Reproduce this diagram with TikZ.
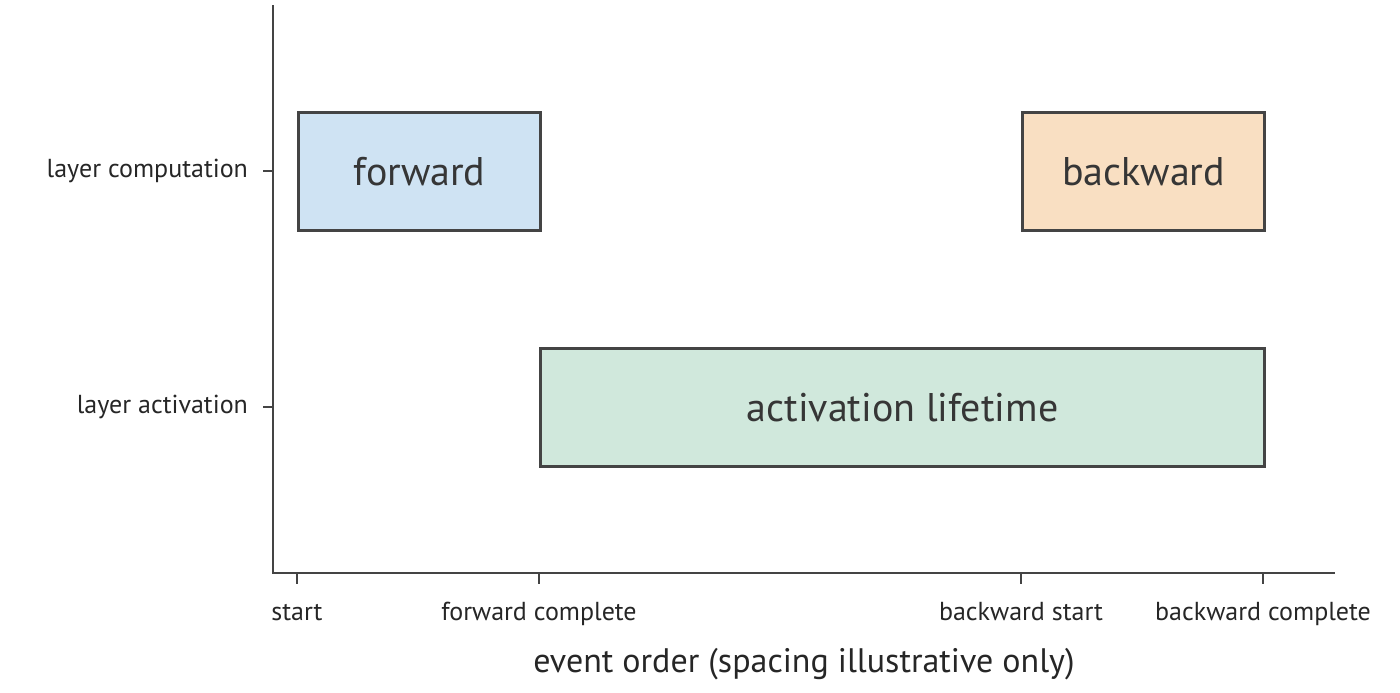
\documentclass[tikz,border=0pt]{standalone}
\usepackage{fontspec}
\setmainfont{PT Sans}
\usepackage{xcolor}
\definecolor{fwdblue}{HTML}{CFE3F3}
\definecolor{bwdorange}{HTML}{F9DFC2}
\definecolor{actgreen}{HTML}{D0E8DC}
\definecolor{axisgray}{HTML}{444444}
\begin{document}
\begin{tikzpicture}[x=0.5pt, y=-0.5pt,
    phase/.style={draw=axisgray, line width=1.5pt, inner sep=0pt, anchor=north west, font=\fontsize{20}{24}\selectfont, text=axisgray!80!black},
    tick/.style={font=\fontsize{13}{15}\selectfont, text=black!85},
    axis/.style={draw=axisgray, line width=1pt}]
  \useasboundingbox (0, 0) rectangle (1400, 692);

  % axes
  \coordinate (top) at (273, 5);
  \coordinate (origin) at (273, 573);
  \coordinate (right) at (1335, 573);
  \draw[axis] (top) -- (origin) -- (right);

  % phases
  \node (forward) at (297, 111) [phase, fill=fwdblue, minimum width=121pt, minimum height=59pt] {forward};
  \node (backward) at (1021, 111) [phase, fill=bwdorange, minimum width=121pt, minimum height=59pt] {backward};
  \node (lifetime) at (539, 347) [phase, fill=actgreen, minimum width=362pt, minimum height=59pt] {activation lifetime};

  % y ticks
  \foreach \y/\txt in {171/layer computation, 407/layer activation} {
    \draw[axis] (263, \y) -- (273, \y);
    \node[tick, anchor=east] at (255, \y) {\txt};
  }

  % x ticks
  \foreach \x/\txt in {297/start, 539/forward complete, 1021/backward start, 1263/backward complete} {
    \draw[axis] (\x, 573) -- (\x, 584);
    \node[tick, anchor=base] at (\x, 620) {\txt};
  }

  \node (xlabel) at (804, 672) [anchor=base, font=\fontsize{17}{20}\selectfont, text=black!85] {event order (spacing illustrative only)};
\end{tikzpicture}
\end{document}
